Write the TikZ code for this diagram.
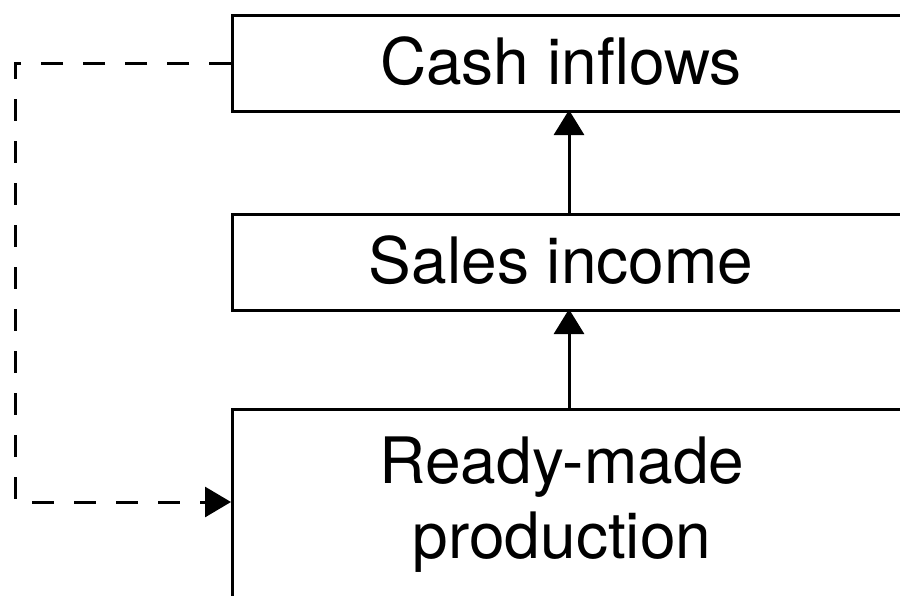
\documentclass[tikz,border=0pt]{standalone}
\usepackage{fontspec}
\setmainfont{TeX Gyre Heros}
\usetikzlibrary{arrows.meta}
\begin{document}
\begin{tikzpicture}[x=1pt,y=-1pt,
  line width=3pt,
  box/.style={draw, rectangle, anchor=north west, inner sep=0pt},
  lbl/.style={font=\fontsize{64}{75}\selectfont, align=center, inner sep=0pt},
  flow/.style={-{Triangle[length=25pt,width=30pt]}},
  loop/.style={dash pattern=on 22pt off 20pt, -{Triangle[length=26pt,width=30pt]}}]
  \useasboundingbox (0,0) rectangle (900,595);
  \clip (0,0) rectangle (900,595);
  % three stacked boxes, running off the right edge
  \node[box, minimum width=720pt, minimum height=96pt] (cash) at (231,14) {};
  \node[box, minimum width=720pt, minimum height=96pt] (sales) at (231,213) {};
  \node[box, minimum width=720pt, minimum height=260pt] (ready) at (231,408) {};
  % box labels
  \node[lbl] (cashT) at (561,61) {Cash inflows};
  \node[lbl] (salesT) at (561,260) {Sales income};
  \node[lbl] (readyT) at (562,505) {Ready-made\\production};
  % upward flow
  \coordinate (salesTop) at (569,213);
  \coordinate (cashBot) at (569,110);
  \coordinate (readyTop) at (569,408);
  \coordinate (salesBot) at (569,309);
  \draw[flow] (salesTop) -- (cashBot);
  \draw[flow] (readyTop) -- (salesBot);
  % dashed feedback loop
  \coordinate (cashL) at (231,63);
  \coordinate (readyL) at (231,502);
  \draw[loop] (cashL) -- (15,63) -- (15,502) -- (readyL);
\end{tikzpicture}
\end{document}
